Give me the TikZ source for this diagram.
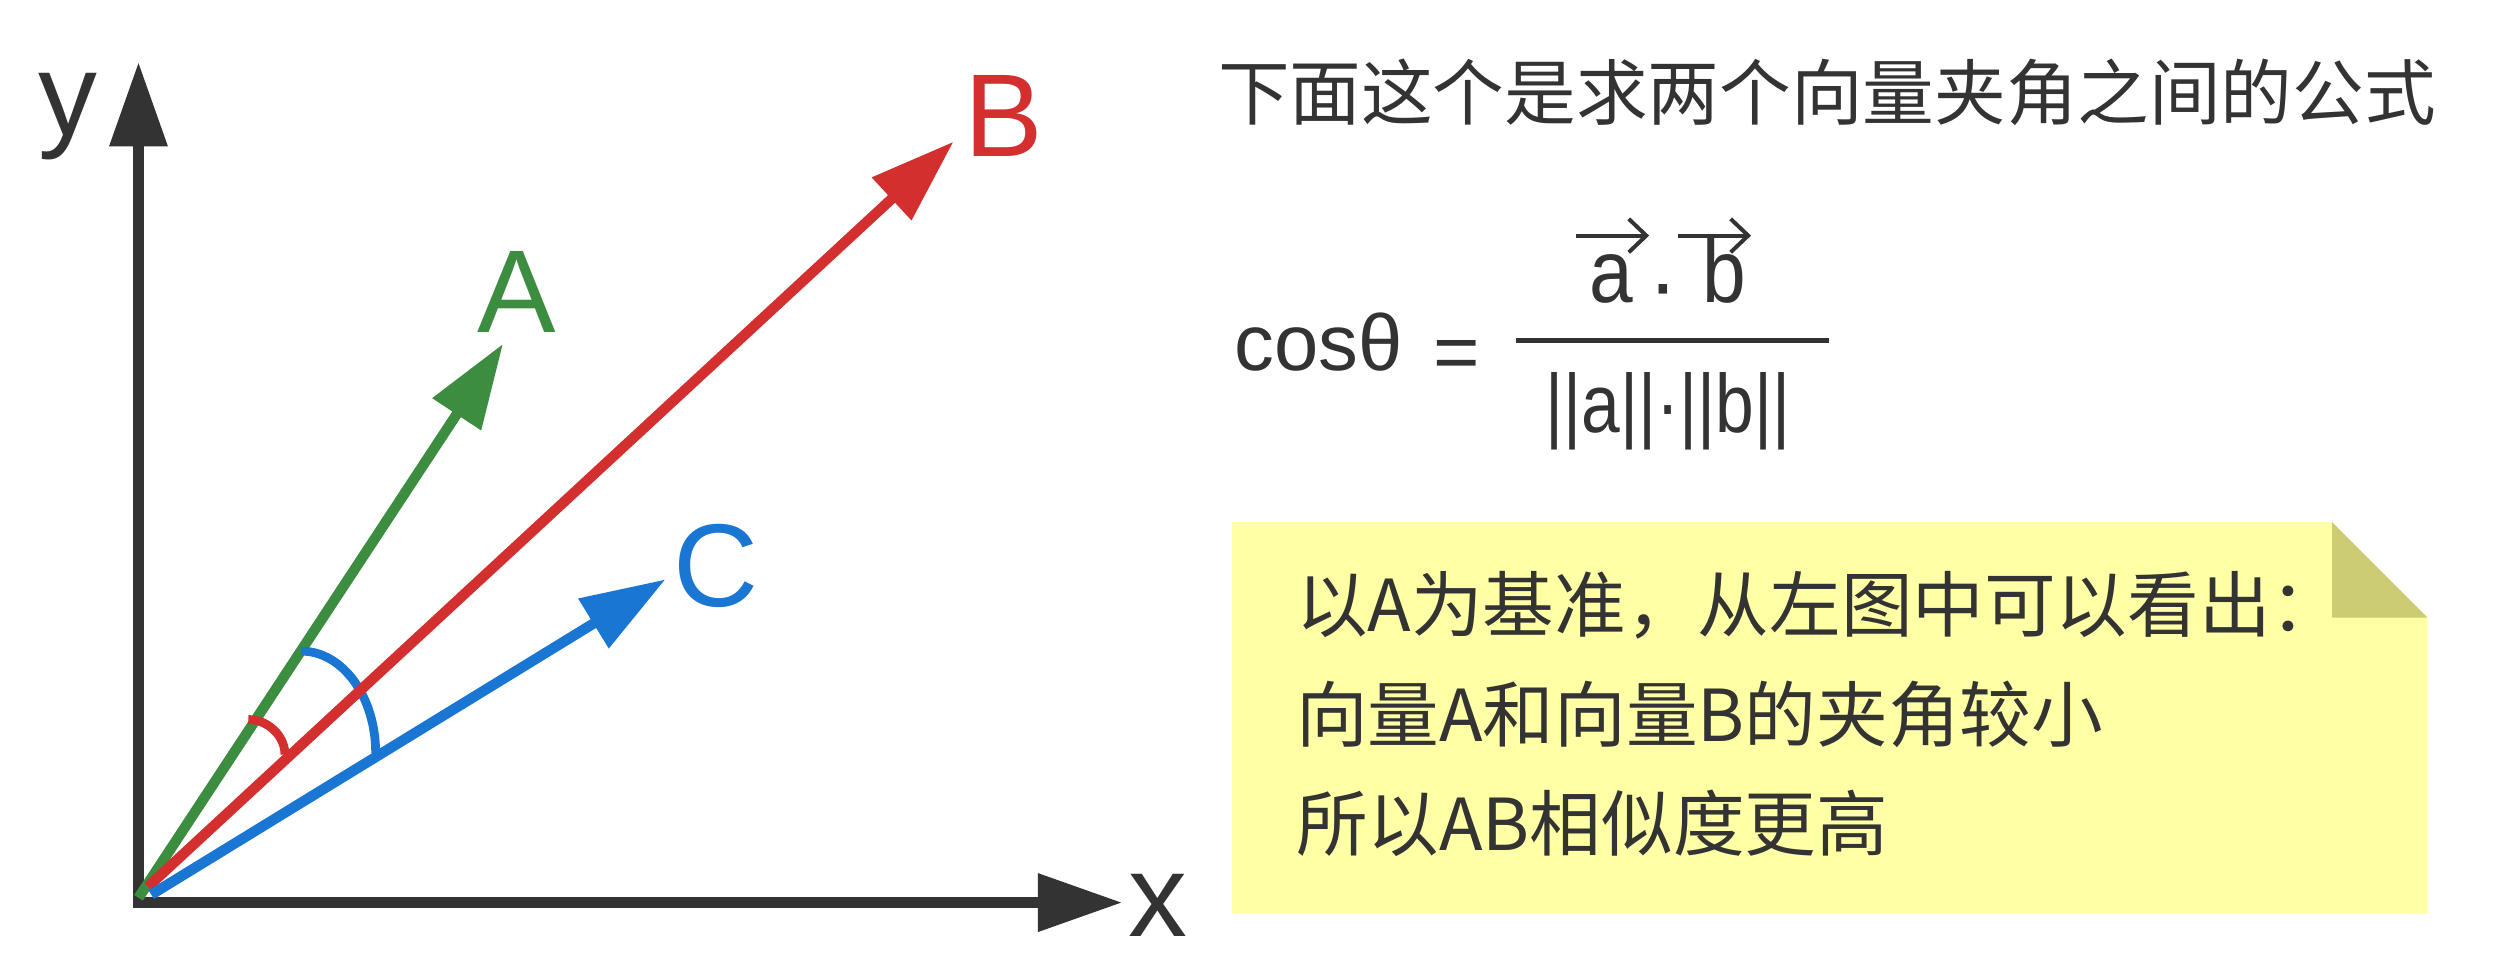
\documentclass[tikz,border=0pt]{standalone}
\usepackage{fontspec}
\setmainfont{Liberation Sans}
\newfontfamily\cjk{Noto Sans CJK SC}
\usetikzlibrary{arrows.meta}
\definecolor{axisgray}{HTML}{333333}
\definecolor{vgreen}{HTML}{3C8D40}
\definecolor{vred}{HTML}{D32F2F}
\definecolor{vblue}{HTML}{1976D2}
\definecolor{noteyellow}{HTML}{FFFFA5}
\definecolor{notefold}{HTML}{CCCC74}
\begin{document}
\begin{tikzpicture}[x=1pt,y=-1pt,
  bighead/.tip={Triangle[length=53pt,width=35pt]},
  axisline/.style={line width=7pt, draw=axisgray, line join=miter},
  vecline/.style={line width=6.5pt},
  anglearc/.style={line width=5.5pt},
  lab/.style={font=\fontsize{74}{74}\selectfont, inner sep=0pt, anchor=base west},
  fml/.style={font=\fontsize{50}{50}\selectfont, inner sep=0pt, text=axisgray},
  num/.style={font=\fontsize{56}{56}\selectfont, inner sep=0pt, text=axisgray, anchor=base},
  overarrow/.style={line width=2.5pt, draw=axisgray, -{Straight Barb[length=11pt,width=21pt]}},
  cjktext/.style={font=\cjk\fontsize{45}{45}\selectfont, inner sep=0pt, text=axisgray, anchor=base west},
  cjktitle/.style={font=\cjk\fontsize{45}{45}\selectfont, inner sep=0pt, text=axisgray, anchor=base west}
]
\useasboundingbox (0,0) rectangle (1568,613);

% axes
\coordinate (O) at (87,567);
\coordinate (ytip) at (87,39);
\coordinate (xtip) at (705,567);
\draw[axisline, bighead-bighead] (ytip) -- (O) -- (xtip);
\node[lab, text=axisgray] (Ly) at (24,85) {y};
\node[lab, text=axisgray] (Lx) at (709,588) {x};

% vectors
\coordinate (Gs) at (87,564);  \coordinate (Gt) at (316,216);
\coordinate (Rs) at (93,557);  \coordinate (Rt) at (599,89);
\coordinate (Bs) at (95,562);  \coordinate (Bt) at (418,364);

\draw[vecline, vgreen, -bighead] (Gs) -- (Gt);
\coordinate (ba1) at (189,409); \coordinate (ba2) at (236,473);
\draw[anglearc, vblue] (ba1) .. controls (215.5,409) and (236,438) .. (ba2);
\draw[vecline, vred, -bighead] (Rs) -- (Rt);
\coordinate (ra1) at (156,452); \coordinate (ra2) at (179,474);
\draw[anglearc, vred] (ra1) .. controls (168,452) and (179,462) .. (ra2);
\draw[vecline, vblue, -bighead] (Bs) -- (Bt);

\node[lab, text=vgreen] (LA) at (300,209) {A};
\node[lab, text=vred] (LB) at (606,98) {B};
\node[lab, text=vblue] (LC) at (423,381) {C};

% title
\node[cjktitle] (title) at (765,75) {下面这个是求两个向量夹角之间的公式};

% formula
\node[fml, anchor=base west] (cos) at (775.5,233) {cosθ};
\node[fml, anchor=base west] (eq) at (900.5,238.5) {=};
\coordinate (fracL) at (952.6,214);
\coordinate (fracR) at (1149,214);
\draw[line width=3pt, axisgray] (fracL) -- (fracR);
\node[num] (na) at (1012.5,190) {\scalebox{0.88}[1]{a}};
\node[num] (nd) at (1045,197) {·};
\node[num] (nb) at (1083,190) {\scalebox{0.88}[1]{b}};
\coordinate (aa1) at (990,148); \coordinate (aa2) at (1036,148);
\coordinate (ab1) at (1054,148); \coordinate (ab2) at (1100,148);
\draw[overarrow] (aa1) -- (aa2);
\draw[overarrow] (ab1) -- (ab2);
\node[font=\fontsize{52}{52}\selectfont, inner sep=0pt, text=axisgray, anchor=base] (den) at (1047.8,272) {\scalebox{0.84}[1]{||a||·||b||}};

% note
\fill[noteyellow] (774,328) -- (1465,328) -- (1525,388) -- (1525,574) -- (774,574) -- cycle;
\fill[notefold] (1465,328) -- (1465,388) -- (1525,388) -- cycle;
\node[cjktext] (n1) at (814,397) {以A为基准，从左图中可以看出：};
\node[cjktext] (n2) at (814,466) {向量A和向量B的夹角较小};
\node[cjktext] (n3) at (814,534) {所以AB相似度更高};
\end{tikzpicture}
\end{document}
